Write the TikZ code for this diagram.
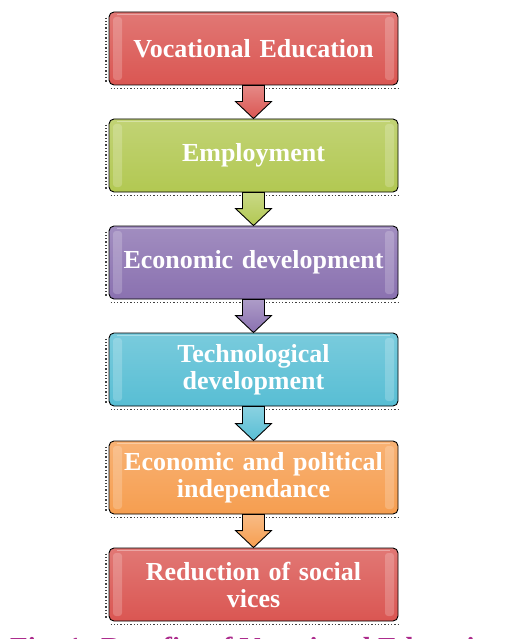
\documentclass[tikz,border=0pt]{standalone}
\usepackage{fontspec}
\setmainfont{Liberation Serif}
\usetikzlibrary{calc}

% box fill colours
\definecolor{boxred}{RGB}{218,86,82}
\definecolor{boxgreen}{RGB}{178,200,82}
\definecolor{boxpurple}{RGB}{138,113,176}
\definecolor{boxaqua}{RGB}{88,190,212}
\definecolor{boxorange}{RGB}{246,158,80}
\definecolor{captioncol}{RGB}{172,42,140}

\newcommand\boxfont{\bfseries\fontsize{26}{27}\selectfont}
\newcommand\capfont{\bfseries\fontsize{29}{30}\selectfont}

% block arrow from the bottom of one box to the top of the next
\newcommand\flowarrow[3]{%
  \draw[flowarr, top color=#3!70!white, bottom color=#3]
    ($(#1.south)+(-11,0)$) -- ($(#2.north)+(-11,-17)$) -- ($(#2.north)+(-18,-17)$)
    -- (#2.north) -- ($(#2.north)+(18,-17)$) -- ($(#2.north)+(11,-17)$)
    -- ($(#1.south)+(11,0)$) -- cycle;}

% dotted drop shadow along the left and bottom edges
\newcommand\boxshadow[1]{%
  \draw[shadowline] ($(#1.north west)+(-2.5,6)$) -- ($(#1.south west)+(-2.5,-2)$);
  \draw[shadowline] ($(#1.south west)+(2,3)$) -- ($(#1.south east)+(0,3)$);}

\tikzset{
  flowbox/.style={draw=black, line width=0.9pt, rounded corners=5pt,
    minimum width=289pt, minimum height=73pt, text width=282pt,
    align=center, inner sep=0pt, text=white, font=\boxfont,
    top color=#1!80!white, bottom color=#1,
    path picture={
      \fill[white, opacity=0.2, rounded corners=3pt]
        ([xshift=4pt,yshift=-5pt]path picture bounding box.north west) rectangle
        ([xshift=13pt,yshift=5pt]path picture bounding box.south west);
      \fill[white, opacity=0.2, rounded corners=3pt]
        ([xshift=-4pt,yshift=-5pt]path picture bounding box.north east) rectangle
        ([xshift=-13pt,yshift=5pt]path picture bounding box.south east);
      \draw[white, opacity=0.35, line width=1.2pt]
        ([xshift=8pt,yshift=-2.5pt]path picture bounding box.north west) --
        ([xshift=-8pt,yshift=-2.5pt]path picture bounding box.north east);
    }},
  flowarr/.style={draw=black, line width=0.9pt, line join=miter},
  shadowline/.style={draw=black!75, line width=1.3pt, dotted}
}

\begin{document}
\begin{tikzpicture}[x=1pt, y=-1pt]
  \useasboundingbox[fill=white] (0,0) rectangle (505,639);

  \node[flowbox=boxred]    (voc)  at (253.5,48.5)  {Vocational Education};
  \node[flowbox=boxgreen]  (emp)  at (253.5,155.5) {Employment};
  \node[flowbox=boxpurple] (eco)  at (253.5,262.5) {Economic development};
  \node[flowbox=boxaqua]   (tech) at (253.5,369.5) {Technological\\development};
  \node[flowbox=boxorange] (pol)  at (253.5,477.5) {Economic and political\\independance};
  \node[flowbox=boxred]    (soc)  at (253.5,584.5) {Reduction of social\\vices};

  \foreach \n in {voc,emp,eco,tech,pol,soc} {\boxshadow{\n}}

  \flowarrow{voc}{emp}{boxred}
  \flowarrow{emp}{eco}{boxgreen}
  \flowarrow{eco}{tech}{boxpurple}
  \flowarrow{tech}{pol}{boxaqua}
  \flowarrow{pol}{soc}{boxorange}

  % caption line, only its top edge lies inside the page
  \begin{scope}
    \clip (0,635) rectangle (505,639);
    \node[anchor=base west, inner sep=0pt, text=captioncol, font=\capfont]
      (cap) at (10,657) {Fig. 1: Benefits of Vocational Education};
  \end{scope}
\end{tikzpicture}
\end{document}
